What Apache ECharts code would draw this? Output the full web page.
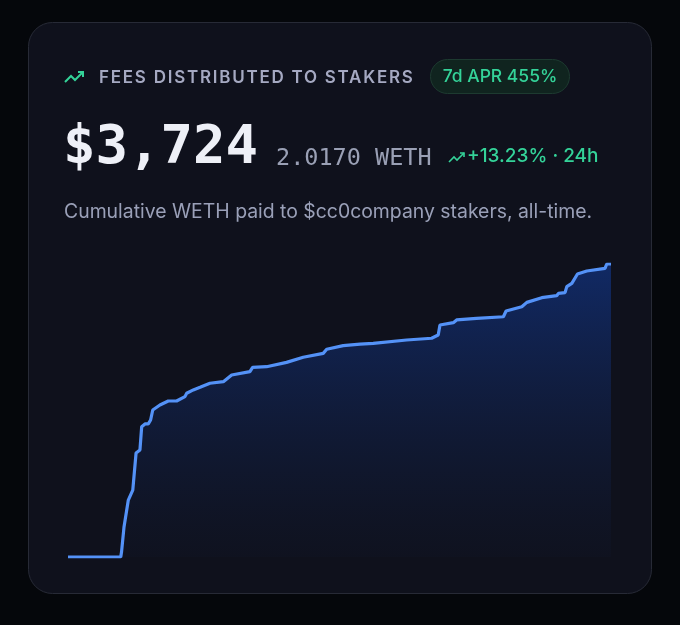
<!DOCTYPE html>
<html>
<head>
<meta charset="utf-8">
<script src="https://cdn.jsdelivr.net/npm/echarts@6/dist/echarts.min.js"></script>
<style>
html,body{margin:0;padding:0;background:#05070b;}
#wrap{position:relative;width:680px;height:625px;}
#c{width:680px;height:625px;}
#title{position:absolute;left:99px;top:67px;height:20px;line-height:20px;font:600 17px Inter, sans-serif;letter-spacing:1.75px;color:#a5a9c2;white-space:nowrap;}
</style>
</head>
<body>
<div id="wrap"><div id="c"></div><div id="title"></div></div>
<script>
// Days since launch
var days = [0, 2.72, 2.76, 2.89, 3.11, 3.34, 3.51, 3.71, 3.80, 3.97, 4.14, 4.26, 4.37, 4.74, 5.17, 5.60, 6.03, 6.12, 6.46, 6.81, 7.32, 8.01, 8.44, 9.38, 9.52, 10.24, 11.27, 12.13, 13.16, 13.34, 14.19, 15.06, 15.74, 17.46, 18.75, 19.09, 19.18, 19.87, 20.04, 21.07, 22.45, 22.59, 23.40, 23.66, 24.43, 25.20, 25.29, 25.63, 25.72, 25.98, 26.27, 26.75, 27.69, 27.78, 28];
// Cumulative WETH paid
var weth = [0, 0, 0.034, 0.209, 0.392, 0.461, 0.716, 0.737, 0.897, 0.916, 0.916, 0.943, 1.012, 1.046, 1.074, 1.074, 1.104, 1.127, 1.150, 1.168, 1.196, 1.207, 1.253, 1.276, 1.306, 1.310, 1.340, 1.375, 1.402, 1.430, 1.455, 1.466, 1.471, 1.494, 1.506, 1.528, 1.597, 1.613, 1.632, 1.643, 1.654, 1.693, 1.723, 1.753, 1.785, 1.799, 1.815, 1.820, 1.861, 1.884, 1.948, 1.969, 1.987, 2.017, 2.017];

var title = 'FEES DISTRIBUTED TO STAKERS';
var badge = '7d APR 455%';
var usd = '$3,724';
var wethTotal = '2.0170 WETH';
var change = '+13.23% · 24h';
var subtitle = 'Cumulative WETH paid to $cc0company stakers, all-time.';

document.getElementById('title').textContent = title;

var data = days.map(function(d, i){ return [d, weth[i]]; });
var green = '#34d399';

var chart = echarts.init(document.getElementById('c'), null, {renderer: 'canvas'});
chart.setOption({
  backgroundColor: '#05070b',
  animation: false,
  grid: {left: 68, right: 69, top: 264, bottom: 68},
  xAxis: {type: 'value', min: 0, max: 28, show: false},
  yAxis: {type: 'value', min: 0, max: 2.017, show: false},
  graphic: [
    {type: 'rect', z: -10, shape: {x: 28.5, y: 22.5, width: 623, height: 571, r: 24},
     style: {fill: '#0f111c', stroke: '#272a36', lineWidth: 1}},
    {type: 'polyline', shape: {points: [[65, 82], [71, 76], [75, 80], [83, 72]]},
     style: {stroke: green, lineWidth: 2, fill: null}},
    {type: 'polyline', shape: {points: [[78, 72], [83, 72], [83, 77]]},
     style: {stroke: green, lineWidth: 2, fill: null}},
    {type: 'rect', shape: {x: 430.5, y: 59.5, width: 139, height: 34, r: 17},
     style: {fill: '#10241f', stroke: '#1d3a30', lineWidth: 1}},
    {type: 'text', x: 500, y: 77, style: {text: badge, fill: green, font: '500 17.5px Inter', textAlign: 'center', textVerticalAlign: 'middle'}},
    {type: 'text', x: 63, y: 176, style: {text: usd, fill: '#eef0f7', font: 'bold 54px "DejaVu Sans Mono"', textVerticalAlign: 'bottom'}},
    {type: 'text', x: 276, y: 171, style: {text: wethTotal, fill: '#9aa0b5', font: '23.5px "DejaVu Sans Mono"', textVerticalAlign: 'bottom'}},
    {type: 'polyline', shape: {points: [[449, 162], [454, 157], [457, 160], [464, 153]]},
     style: {stroke: green, lineWidth: 1.6, fill: null}},
    {type: 'polyline', shape: {points: [[460, 153], [464, 153], [464, 157]]},
     style: {stroke: green, lineWidth: 1.6, fill: null}},
    {type: 'text', x: 467, y: 156, style: {text: change, fill: green, font: '500 19px Inter', textVerticalAlign: 'middle'}},
    {type: 'text', x: 64, y: 212, style: {text: subtitle, fill: '#9aa0b8', font: '19.4px Inter', textVerticalAlign: 'middle'}}
  ],
  series: [{
    type: 'line',
    data: data,
    showSymbol: false,
    lineStyle: {color: '#5492f7', width: 3.2},
    areaStyle: {
      color: new echarts.graphic.LinearGradient(0, 0, 0, 1, [
        {offset: 0, color: 'rgba(18,58,150,0.85)'},
        {offset: 1, color: 'rgba(20,40,90,0.08)'}
      ])
    }
  }]
});
</script>
</body>
</html>
